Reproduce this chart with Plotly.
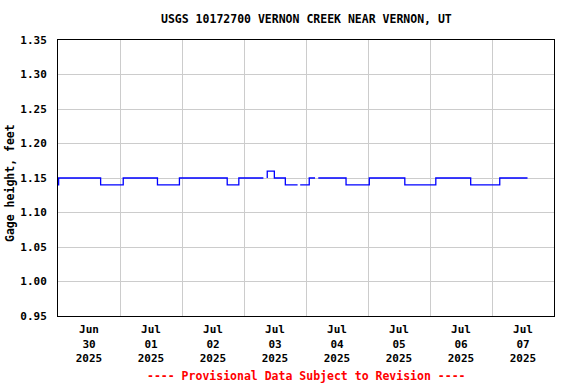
import plotly.graph_objects as go

# Gage height step data (time, feet); None marks data gaps
times = [
    "2025-06-30 00:00", "2025-06-30 00:15", "2025-06-30 16:30", "2025-07-01 01:15",
    "2025-07-01 14:30", "2025-07-01 23:00", "2025-07-02 17:30", "2025-07-02 22:00",
    "2025-07-03 07:30", "2025-07-03 08:15",
    "2025-07-03 09:00", "2025-07-03 09:00", "2025-07-03 11:45", "2025-07-03 16:00", "2025-07-03 20:45",
    "2025-07-03 21:15",
    "2025-07-03 21:45", "2025-07-04 01:15", "2025-07-04 03:30", "2025-07-04 04:00",
    "2025-07-04 04:45", "2025-07-04 15:30", "2025-07-05 00:30", "2025-07-05 14:15",
    "2025-07-06 02:15", "2025-07-06 15:45", "2025-07-07 03:00", "2025-07-07 13:45",
]
values = [
    1.14, 1.15, 1.14, 1.15,
    1.14, 1.15, 1.14, 1.15,
    1.15, None,
    1.15, 1.16, 1.15, 1.14, 1.14,
    None,
    1.14, 1.15, 1.15, None,
    1.15, 1.14, 1.15, 1.14,
    1.15, 1.14, 1.15, 1.15,
]

label_days = ["2025-06-30", "2025-07-01", "2025-07-02", "2025-07-03",
              "2025-07-04", "2025-07-05", "2025-07-06", "2025-07-07"]
label_text = ["Jun<br>30<br>2025", "Jul<br>01<br>2025", "Jul<br>02<br>2025", "Jul<br>03<br>2025",
              "Jul<br>04<br>2025", "Jul<br>05<br>2025", "Jul<br>06<br>2025", "Jul<br>07<br>2025"]
grid_days = ["2025-07-01", "2025-07-02", "2025-07-03", "2025-07-04",
             "2025-07-05", "2025-07-06", "2025-07-07"]

FONT = "DejaVu Sans Mono"

fig = go.Figure()
fig.add_trace(go.Scatter(
    x=times, y=values, mode="lines", line=dict(color="#0000ff", width=1.3, shape="hv"),
    connectgaps=False, showlegend=False, hoverinfo="skip",
))

fig.update_layout(
    width=576, height=384,
    margin=dict(l=58, r=22, t=40, b=68, autoexpand=False),
    paper_bgcolor="white", plot_bgcolor="white",
    font=dict(family=FONT, size=11, color="black", weight="bold"),
    showlegend=False,
)

fig.update_xaxes(
    type="date", automargin=False,
    range=["2025-06-30 00:00", "2025-07-08 00:00"],
    tickmode="array",
    tickvals=[d + " 12:00" for d in label_days],
    ticktext=label_text,
    ticks="", showgrid=False, ticklabelstandoff=3,
    tickfont=dict(family=FONT, size=11, color="black", weight="bold"),
    showline=True, linecolor="black", linewidth=1, mirror=True,
    zeroline=False,
    minor=dict(tickmode="array", tickvals=grid_days, showgrid=True,
               gridcolor="#cccccc", gridwidth=1, ticks=""),
)

fig.update_yaxes(
    range=[0.95, 1.35], automargin=False,
    tickmode="array",
    tickvals=[0.95, 1.00, 1.05, 1.10, 1.15, 1.20, 1.25, 1.30, 1.35],
    tickformat=".2f",
    ticks="", ticklabelstandoff=8,
    tickfont=dict(family=FONT, size=11, color="black", weight="bold"),
    showgrid=True, gridcolor="#cccccc", gridwidth=1,
    showline=True, linecolor="black", linewidth=1, mirror=True,
    zeroline=False,
)

fig.add_annotation(
    text="Gage height, feet",
    xref="paper", yref="paper", x=(10 - 58) / 496, y=(316 - 183) / 276,
    xanchor="center", yanchor="middle", textangle=-90, showarrow=False,
    font=dict(family=FONT, size=11.5, color="black", weight="bold"),
)
fig.add_annotation(
    text="USGS 10172700 VERNON CREEK NEAR VERNON, UT",
    xref="paper", yref="paper", x=0.5, y=1 + 21 / 276,
    xanchor="center", yanchor="middle", showarrow=False,
    font=dict(family=FONT, size=11.5, color="black", weight="bold"),
)
fig.add_annotation(
    text="---- Provisional Data Subject to Revision ----",
    xref="paper", yref="paper", x=0.5, y=-(376 - 316) / 276,
    xanchor="center", yanchor="middle", showarrow=False,
    font=dict(family=FONT, size=11.5, color="red", weight="bold"),
)

fig.write_html("out.html", config={"displayModeBar": False},
               post_script="document.body.style.margin='0';")
